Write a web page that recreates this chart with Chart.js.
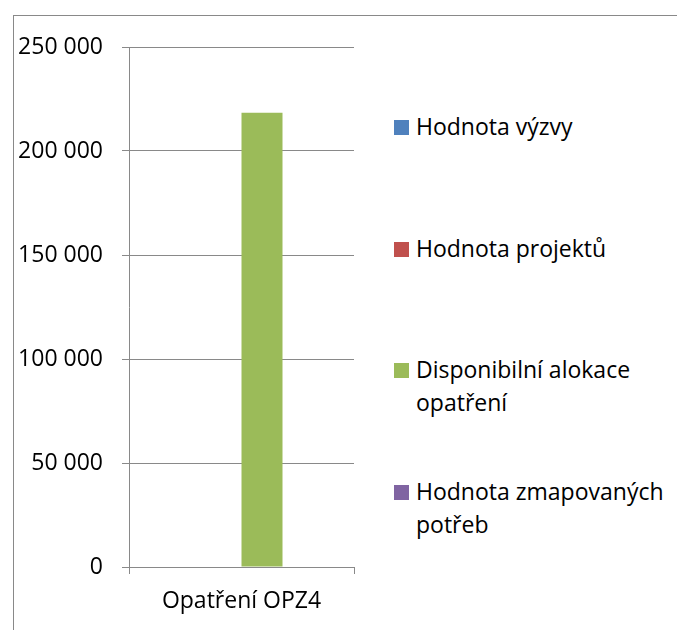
<!DOCTYPE html>
<html>
<head>
<meta charset="utf-8">
<script src="https://cdn.jsdelivr.net/npm/chart.js@4"></script>
<style>
    html, body { margin: 0; padding: 0; background: #fff; overflow: hidden; }
    body { width: 677px; height: 630px; position: relative; font-family: 'Open Sans', sans-serif; }
    #frame { position: absolute; left: 13px; top: 15px; width: 800px; height: 800px; border: 1px solid #898989; }
    #box { position: absolute; left: 0; top: 0; width: 370px; height: 630px; }
    #legend { position: absolute; left: 394px; top: 0; }
    .item { position: absolute; left: 0; width: 280px; }
    .sw { position: absolute; left: 0; top: 10px; width: 15px; height: 15px; }
    .txt { position: absolute; left: 22px; top: 0; width: 260px; font-size: 23px; line-height: 33px; color: #000; }
</style>
</head>
<body>
<div id="frame"></div>
<div id="box"><canvas id="barChart"></canvas></div>
<div id="legend"></div>
<script>
const categories = ['Opatření OPZ4'];
const seriesLabels = ['Hodnota výzvy', 'Hodnota projektů', 'Disponibilní alokace opatření', 'Hodnota zmapovaných potřeb'];
const seriesColors = ['#4F81BD', '#C0504D', '#9BBB59', '#8064A2'];
const seriesValues = [[0], [0], [218400], [0]];
const yTicks = [0, 50000, 100000, 150000, 200000, 250000];

const axisColor = '#898989';

function fmt(v) {
    return String(v).replace(/\B(?=(\d{3})+(?!\d))/g, ' ');
}

let myChart;

function initChart() {
    const ctx = document.getElementById('barChart').getContext('2d');
    myChart = new Chart(ctx, {
        type: 'bar',
        data: {
            labels: categories,
            datasets: seriesLabels.map((label, i) => ({
                label: label,
                data: seriesValues[i],
                backgroundColor: seriesColors[i],
                categoryPercentage: 0.729,
                barPercentage: 1
            }))
        },
        options: {
            responsive: true,
            maintainAspectRatio: false,
            animation: false,
            layout: { padding: { left: 0, right: 16, top: 47, bottom: 0 } },
            plugins: {
                legend: { display: false },
                tooltip: { enabled: false }
            },
            scales: {
                x: {
                    offset: true,
                    grid: { offset: true, drawOnChartArea: false, color: axisColor, tickLength: 7 },
                    border: { color: axisColor },
                    ticks: { color: '#000', font: { family: 'Open Sans', size: 23 }, padding: 14 },
                    afterFit: (scale) => { scale.height = 63; }
                },
                y: {
                    min: yTicks[0],
                    max: yTicks[yTicks.length - 1],
                    afterBuildTicks: (scale) => { scale.ticks = yTicks.map(v => ({ value: v })); },
                    grid: { color: axisColor, tickLength: 7 },
                    border: { color: axisColor },
                    ticks: { color: '#000', font: { family: 'Open Sans', size: 23 }, padding: 19, callback: (v) => fmt(v) },
                    afterFit: (scale) => { scale.width = 129; }
                }
            }
        }
    });
}

function buildLegend() {
    const legend = document.getElementById('legend');
    seriesLabels.forEach((label, i) => {
        const item = document.createElement('div');
        item.className = 'item';
        item.style.top = (110 + i * 121.7) + 'px';
        const sw = document.createElement('div');
        sw.className = 'sw';
        sw.style.background = seriesColors[i];
        const txt = document.createElement('div');
        txt.className = 'txt';
        txt.textContent = label;
        item.appendChild(sw);
        item.appendChild(txt);
        legend.appendChild(item);
    });
}

buildLegend();
initChart();
</script>
</body>
</html>
